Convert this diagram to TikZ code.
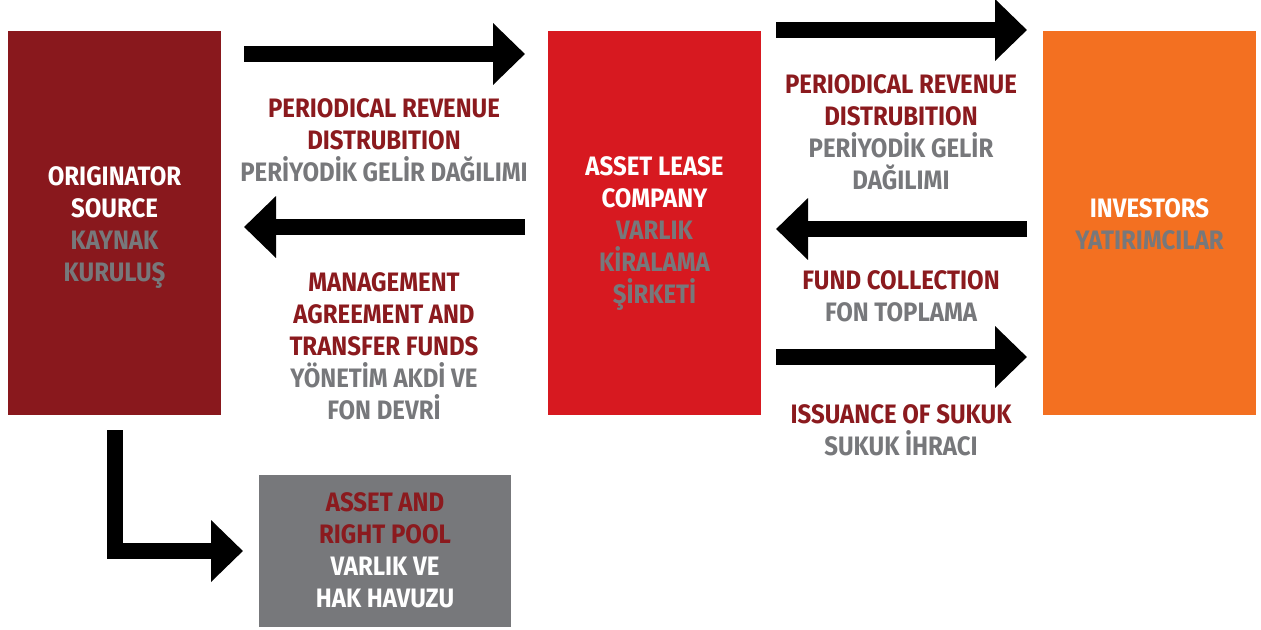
\documentclass[tikz,border=0pt]{standalone}
\usepackage{fontspec}
\setmainfont{Fira Sans}[FakeStretch=0.9]
\usetikzlibrary{arrows.meta,calc}

\definecolor{origred}{RGB}{137,24,29}
\definecolor{leasered}{RGB}{215,25,32}
\definecolor{invorange}{RGB}{243,112,33}
\definecolor{poolgray}{RGB}{119,120,123}
\definecolor{txtred}{RGB}{139,26,30}
\definecolor{txtgray}{RGB}{119,120,123}

\tikzset{every picture/.style={line width=0.75pt}}
\tikzset{
  box/.style={inner sep=0pt, outer sep=0pt},
  boxtxt/.style={inner sep=0.75pt, align=center, text=white,
    font=\bfseries\fontsize{20}{24}\selectfont},
  lbl/.style={inner sep=0.75pt, align=center, text=txtred,
    font=\bfseries\fontsize{20}{24}\selectfont},
  blockarrow/.style={draw=black, line width=12pt, -{Triangle[length=24pt,width=45pt]}},
}

\begin{document}
\begin{tikzpicture}[x=0.75pt,y=0.75pt,yscale=-1,xscale=1]
\useasboundingbox (0,0) rectangle (1261,629);

%Shape: Rectangle [originator]
\node[box, fill=origred, minimum width=159.75pt, minimum height=288pt] (orig) at (114.5,223) {};
%Shape: Rectangle [asset lease company]
\node[box, fill=leasered, minimum width=159.75pt, minimum height=288pt] (alc) at (654.5,223) {};
%Shape: Rectangle [investors]
\node[box, fill=invorange, minimum width=159.75pt, minimum height=288pt] (inv) at (1149.5,223) {};
%Shape: Rectangle [pool]
\node[box, fill=poolgray, minimum width=189pt, minimum height=114pt] (pool) at (385,551) {};

%Straight Lines [originator - lease]
\draw[blockarrow] ($(orig.north east)+(23,23)$) -- ($(alc.north west)+(-23,23)$);
\draw[blockarrow] ($(alc.north west)+(-23,196)$) -- ($(orig.north east)+(23,196)$);
%Straight Lines [lease - investors]
\draw[blockarrow] ($(alc.north east)+(15,-1)$) -- ($(inv.north west)+(-16,-1)$);
\draw[blockarrow] ($(inv.north west)+(-16,198)$) -- ($(alc.north east)+(15,198)$);
\draw[blockarrow] ($(alc.north east)+(15,326)$) -- ($(inv.north west)+(-16,326)$);
%Straight Lines [originator - pool]
\draw[blockarrow] ($(orig.south)+(0,15)$) |- ($(pool.west)+(-16,0)$);

% Text Node
\node[boxtxt] (origtxt) at ($(orig)+(0,5)$) {ORIGINATOR\\SOURCE\\\textcolor{txtgray}{KAYNAK}\\\textcolor{txtgray}{KURULUŞ}};
% Text Node
\node[boxtxt] (alctxt) at ($(alc)+(0,11)$) {ASSET LEASE\\COMPANY\\\textcolor{txtgray}{VARLIK}\\\textcolor{txtgray}{KİRALAMA}\\\textcolor{txtgray}{ŞİRKETİ}};
% Text Node
\node[boxtxt] (invtxt) at ($(inv)+(0,1)$) {INVESTORS\\\textcolor{txtgray}{YATIRIMCILAR}};
% Text Node
\node[boxtxt] (pooltxt) at ($(pool)+(0,-1)$) {\textcolor{txtred}{ASSET AND}\\\textcolor{txtred}{RIGHT POOL}\\VARLIK VE\\HAK HAVUZU};
% Text Node
\node[lbl] (revl) at (384,140) {PERIODICAL REVENUE\\DISTRUBITION\\\textcolor{txtgray}{PERİYODİK GELİR DAĞILIMI}};
% Text Node
\node[lbl] (mgmt) at (384,346) {MANAGEMENT\\AGREEMENT AND\\TRANSFER FUNDS\\\textcolor{txtgray}{YÖNETİM AKDİ VE}\\\textcolor{txtgray}{FON DEVRİ}};
% Text Node
\node[lbl] (revr) at (901,132) {PERIODICAL REVENUE\\DISTRUBITION\\\textcolor{txtgray}{PERİYODİK GELİR}\\\textcolor{txtgray}{DAĞILIMI}};
% Text Node
\node[lbl] (fund) at (901,296) {FUND COLLECTION\\\textcolor{txtgray}{FON TOPLAMA}};
% Text Node
\node[lbl] (sukuk) at (901,430) {ISSUANCE OF SUKUK\\\textcolor{txtgray}{SUKUK İHRACI}};

\end{tikzpicture}
\end{document}
